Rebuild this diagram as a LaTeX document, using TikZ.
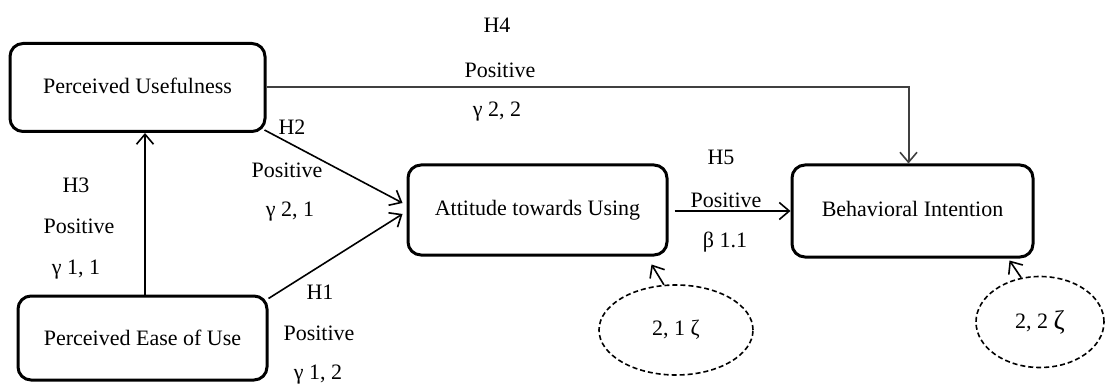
\documentclass[tikz,border=0pt]{standalone}
\usepackage{fontspec}
\setmainfont{Liberation Serif}
\usetikzlibrary{arrows.meta,shapes.geometric,calc}
\begin{document}
\begin{tikzpicture}[x=1pt,y=-1pt,
  every node/.style={font=\fontsize{22}{24}\selectfont, inner sep=0pt},
  cbox/.style={draw, line width=3pt, rounded corners=13pt, align=center},
  lat/.style={draw, dashed, line width=1.6pt, ellipse, dash pattern=on 5pt off 3pt},
  arr/.style={line width=1.6pt, -{Straight Barb[length=10pt,width=17pt,line width=1.6pt]}},
  lbl/.style={anchor=center}]
\useasboundingbox (0,0) rectangle (1110,390);
% boxes
\node[cbox, minimum width=255pt, minimum height=88pt] (pu) at (137.5,87.5) {\raisebox{3pt}{Perceived Usefulness}};
\node[cbox, minimum width=249pt, minimum height=84pt] (peu) at (142.5,338) {Perceived Ease of Use};
\node[cbox, minimum width=259pt, minimum height=90pt] (atu) at (537.5,210) {\raisebox{4pt}{Attitude towards Using}};
\node[cbox, minimum width=241pt, minimum height=92pt] (bi) at (912.5,211) {\raisebox{4pt}{Behavioral Intention}};
% latent ellipses
\node[lat, minimum width=154pt, minimum height=90pt] (e1) at (676,330) {2, 1 ζ};
\node[lat, minimum width=128pt, minimum height=91pt] (e2) at (1040,322) {2, 2 \raisebox{-1pt}{\fontsize{27}{28}\selectfont ζ}};
% connectors
\draw[arr] ($(peu.north)+(2.5,0)$) coordinate (a1) -- (a1 |- pu.south);
\draw[arr, line width=2pt, draw=black!75] (pu.east) -| ($(bi.north)+(-4,0)$);
\draw[arr] ($(pu.south east)+(-2,-3)$) -- ($(atu.west)+(-4,-7)$);
\draw[arr] ($(peu.north east)+(0,4)$) -- ($(atu.west)+(-4,4)$);
\draw[arr] ($(atu.east)+(6,1)$) -- (bi.west |- {$(atu.east)+(6,1)$});
\draw[arr] (e1.105) -- ($(atu.south east)+(-17,8)$);
\draw[arr] (e2.113) -- ($(bi.south east)+(-25,2)$);
% labels
\node[lbl] (h4) at (497,25) {H4};
\node[lbl] (p4) at (500,70) {Positive};
\node[lbl] (g4) at (497,112) {γ 2, 2};
\node[lbl] (h2) at (292,127) {H2};
\node[lbl] (p2) at (287,170) {Positive};
\node[lbl] (g2) at (290,212) {γ 2, 1};
\node[lbl] (h3) at (76,185) {H3};
\node[lbl] (p3) at (79,226) {Positive};
\node[lbl] (g3) at (76,270) {γ 1, 1};
\node[lbl] (h1) at (320,292) {H1};
\node[lbl] (p1) at (319,333) {Positive};
\node[lbl] (g1) at (318,375) {γ 1, 2};
\node[lbl] (h5) at (721,157) {H5};
\node[lbl] (p5) at (726,200) {Positive};
\node[lbl] (b5) at (725,242) {β 1.1};
\end{tikzpicture}
\end{document}
